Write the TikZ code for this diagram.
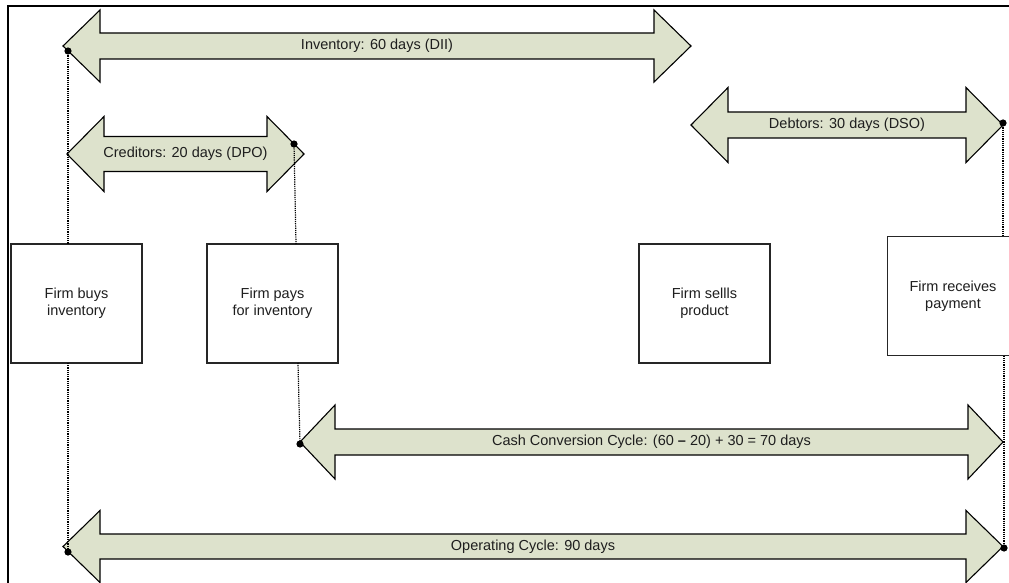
\documentclass[tikz,border=0pt]{standalone}
\usepackage{fontspec}
\setmainfont{Liberation Sans}
\usetikzlibrary{calc}
\definecolor{arrowfill}{RGB}{221,226,204}
\definecolor{txt}{RGB}{30,30,30}
\newcommand\dblarrowshape[6]{% x1 x2 yc shafthalf headhalf headlen
  \filldraw[arrowsty] (#1,#3) -- ({#1+#6},{#3-#5}) -- ({#1+#6},{#3-#4}) -- ({#2-#6},{#3-#4}) -- ({#2-#6},{#3-#5}) -- (#2,#3) -- ({#2-#6},{#3+#5}) -- ({#2-#6},{#3+#4}) -- ({#1+#6},{#3+#4}) -- ({#1+#6},{#3+#5}) -- cycle;}
\begin{document}
\begin{tikzpicture}[x=1pt,y=-1pt,
  arrowsty/.style={fill=arrowfill,draw=black,line width=1.1pt,line join=miter},
  lbl/.style={text=txt,font=\fontsize{14.5}{17}\selectfont,inner sep=0pt},
  evbox/.style={draw=black!85,line width=1.1pt,fill=white,minimum width=131pt,minimum height=119pt,align=center,text=txt,font=\fontsize{14.5}{17}\selectfont,inner sep=0pt,outer sep=0pt},
  dotline/.style={densely dotted,line width=1.2pt},
  dotmark/.style={fill=black}]
\clip (0,0) rectangle (1009,583);
\fill[white] (0,0) rectangle (1009,583);
% frame
\draw[line width=2pt] (8,583) -- (8,6) -- (1009,6);
% boxes
\node[evbox] (buys) at (76.5,303.5) {Firm buys\\inventory};
\node[evbox] (pays) at (272.5,303.5) {Firm pays\\for inventory};
\node[evbox] (sells) at (704.5,303.5) {Firm sellls\\product};
\node[evbox] (recv) at (953,296) {Firm receives\\payment};
% arrows
\dblarrowshape{63}{691}{46}{13}{36}{37}
\node[lbl] (invlbl) at (377,46) {Inventory: 60 days (DII)};
\dblarrowshape{67}{304}{154}{17.5}{37.5}{37}
\node[lbl] (credlbl) at (185.5,154) {Creditors: 20 days (DPO)};
\dblarrowshape{691}{1003}{125}{13}{37.5}{37}
\node[lbl] (debtlbl) at (847,125) {Debtors: 30 days (DSO)};
\dblarrowshape{300}{1003}{442}{13}{37}{35}
\node[lbl] (ccclbl) at (651.5,442) {Cash Conversion Cycle: (60 \textbf{–} 20) + 30 = 70 days};
\dblarrowshape{63}{1003}{546.5}{12.5}{36}{37}
\node[lbl] (oplbl) at (533,546.5) {Operating Cycle: 90 days};
% dot coordinates
\coordinate (dinv) at (68,51);
\coordinate (dcred) at (294,144);
\coordinate (ddebt) at (1003,123);
\coordinate (dccc) at (300,444);
\coordinate (dopl) at (68,552);
\coordinate (dopr) at (1004,548);
% dotted connectors
\draw[dotline] (dinv) -- (dinv |- buys.north);
\draw[dotline] (dinv |- buys.south) -- (dopl);
\draw[dotline] (dcred) -- ($(dcred |- pays.north)+(2,0)$);
\draw[dotline] ($(dccc |- pays.south)+(-2,0)$) -- (dccc);
\draw[dotline] (ddebt) -- (ddebt |- recv.north);
\draw[dotline] (dopr |- recv.south) -- (dopr);
% dots
\foreach \p in {dinv,dcred,ddebt,dccc,dopl,dopr} \fill[dotmark] (\p) circle (3.6pt);
\end{tikzpicture}
\end{document}
